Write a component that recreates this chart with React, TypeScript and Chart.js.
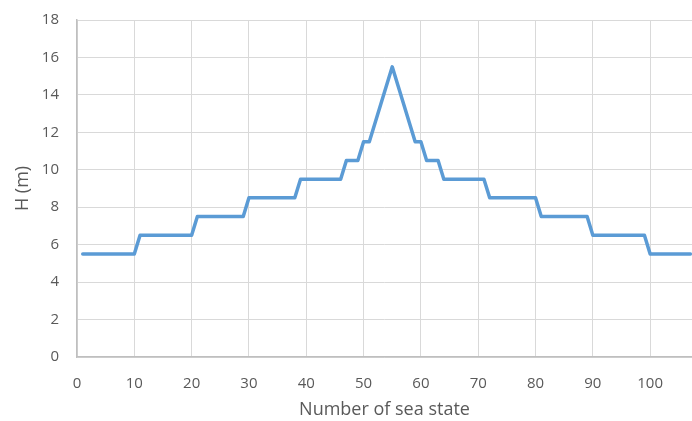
import React, { useEffect, useRef } from "react";
import { Chart, registerables } from "chart.js";

Chart.register(...registerables);

const heights: number[] = [
  5.5, 5.5, 5.5, 5.5, 5.5, 5.5, 5.5, 5.5, 5.5, 5.5,
  6.5, 6.5, 6.5, 6.5, 6.5, 6.5, 6.5, 6.5, 6.5, 6.5,
  7.5, 7.5, 7.5, 7.5, 7.5, 7.5, 7.5, 7.5, 7.5,
  8.5, 8.5, 8.5, 8.5, 8.5, 8.5, 8.5, 8.5, 8.5,
  9.5, 9.5, 9.5, 9.5, 9.5, 9.5, 9.5, 9.5,
  10.5, 10.5, 10.5,
  11.5, 11.5,
  12.5, 13.5, 14.5, 15.5, 14.5, 13.5, 12.5,
  11.5, 11.5,
  10.5, 10.5, 10.5,
  9.5, 9.5, 9.5, 9.5, 9.5, 9.5, 9.5, 9.5,
  8.5, 8.5, 8.5, 8.5, 8.5, 8.5, 8.5, 8.5, 8.5,
  7.5, 7.5, 7.5, 7.5, 7.5, 7.5, 7.5, 7.5, 7.5,
  6.5, 6.5, 6.5, 6.5, 6.5, 6.5, 6.5, 6.5, 6.5, 6.5,
  5.5, 5.5, 5.5, 5.5, 5.5, 5.5, 5.5, 5.5,
];
const firstSeaState = 1;
const xTicks: number[] = [0, 10, 20, 30, 40, 50, 60, 70, 80, 90, 100];
const xTitle = "Number of sea state";
const yTitle = "H (m)";

export default function App() {
  const ref = useRef<HTMLCanvasElement | null>(null);
  useEffect(() => {
    document.body.style.margin = "0";
    const ctx = ref.current!.getContext("2d")!;
    const textColor = "#595959";
    const chart = new Chart(ctx, {
      type: "line",
      data: {
        datasets: [
          {
            data: heights.map((h, i) => ({ x: firstSeaState + i, y: h })),
            borderColor: "#5B9BD5",
            borderWidth: 3.5,
            pointRadius: 0,
            tension: 0,
            borderJoinStyle: "round",
            borderCapStyle: "round",
            fill: false,
          },
        ],
      },
      options: {
        animation: false,
        responsive: false,
        layout: { padding: { top: 20, right: 0, left: 0, bottom: 0 } },
        plugins: { legend: { display: false }, tooltip: { enabled: false } },
        scales: {
          x: {
            type: "linear",
            min: 0,
            max: 107.3,
            afterBuildTicks: (scale: any) => {
              scale.ticks = xTicks.map((v) => ({ value: v }));
            },
            afterFit: (scale: any) => {
              scale.height = 64;
              scale.paddingLeft = 0;
              scale.paddingRight = 0;
            },
            ticks: {
              color: textColor,
              font: { family: "Open Sans", size: 15 },
              padding: 18,
              maxRotation: 0,
            },
            grid: {
              color: (c: any) =>
                c.tick && xTicks.includes(c.tick.value) ? "#d9d9d9" : "rgba(0,0,0,0)",
              lineWidth: 1,
              drawTicks: false,
            },
            border: { color: "#bfbfbf", width: 1.5 },
            title: {
              display: true,
              text: xTitle,
              color: textColor,
              font: { family: "Open Sans", size: 18 },
              padding: { top: 0, bottom: 0 },
            },
          },
          y: {
            min: 0,
            max: 18,
            afterFit: (scale: any) => {
              scale.width = 77;
              scale.paddingTop = 0;
              scale.paddingBottom = 0;
            },
            ticks: {
              stepSize: 2,
              color: textColor,
              font: { family: "Open Sans", size: 15 },
              padding: 18,
            },
            grid: { color: "#d9d9d9", lineWidth: 1, drawTicks: false },
            border: { color: "#bfbfbf", width: 1.5 },
            title: {
              display: true,
              text: yTitle,
              color: textColor,
              font: { family: "Open Sans", size: 18 },
              padding: { top: 12, bottom: 0 },
            },
          },
        },
      },
    } as any);
    return () => chart.destroy();
  }, []);
  return (
    <div style={{ width: 692, height: 421 }}>
      <canvas ref={ref} width={692} height={421} style={{ display: "block" }} />
    </div>
  );
}
